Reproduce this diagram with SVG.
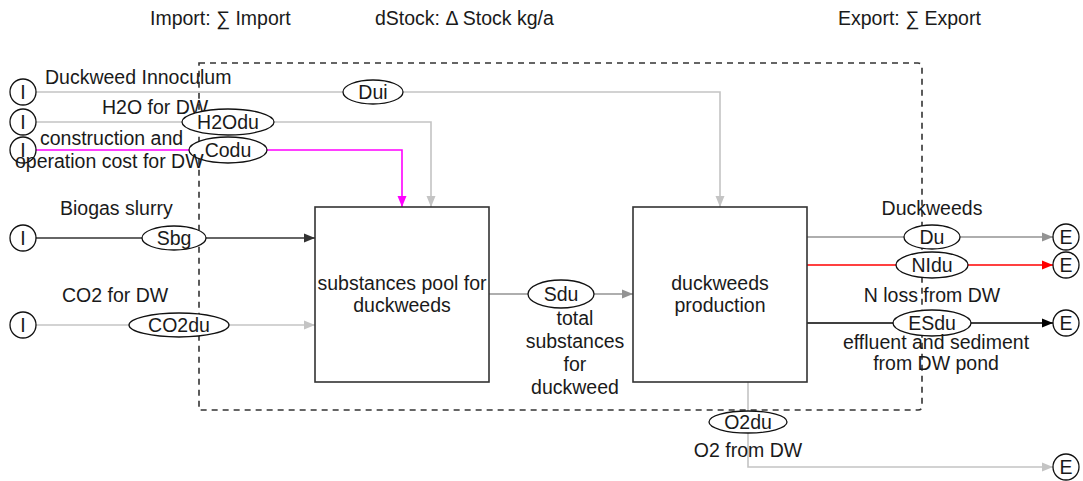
<svg xmlns="http://www.w3.org/2000/svg" width="1083" height="481" viewBox="0 0 1083 481">
<style>
text{font-family:"Liberation Sans",Arial,sans-serif;font-size:19.5px;fill:#1a1a1a}
.c{text-anchor:middle}
.io{fill:#fff;stroke:#111;stroke-width:1.3}
.ell{fill:#fff;stroke:#111;stroke-width:1.3}
.box{fill:#fff;stroke:#333;stroke-width:1.6}
.ln{fill:none;stroke-width:1.6}
.lg{stroke:#c4c4c4}
.mg{stroke:#939393}
.dk{stroke:#333}
.bk{stroke:#000}
.rd{stroke:#ff0000}
.mag{stroke:#ff00ff}
</style>
<defs>
<marker id="aLg" markerUnits="userSpaceOnUse" markerWidth="12" markerHeight="10" refX="11" refY="5" orient="auto"><path d="M0,0.5 L11,5 L0,9.5 z" fill="#c4c4c4"/></marker>
<marker id="aMg" markerUnits="userSpaceOnUse" markerWidth="12" markerHeight="10" refX="11" refY="5" orient="auto"><path d="M0,0.5 L11,5 L0,9.5 z" fill="#939393"/></marker>
<marker id="aDk" markerUnits="userSpaceOnUse" markerWidth="12" markerHeight="10" refX="11" refY="5" orient="auto"><path d="M0,0.5 L11,5 L0,9.5 z" fill="#333"/></marker>
<marker id="aBk" markerUnits="userSpaceOnUse" markerWidth="12" markerHeight="10" refX="11" refY="5" orient="auto"><path d="M0,0.5 L11,5 L0,9.5 z" fill="#000"/></marker>
<marker id="aRd" markerUnits="userSpaceOnUse" markerWidth="12" markerHeight="10" refX="11" refY="5" orient="auto"><path d="M0,0.5 L11,5 L0,9.5 z" fill="#ff0000"/></marker>
<marker id="aMag" markerUnits="userSpaceOnUse" markerWidth="12" markerHeight="10" refX="11" refY="5" orient="auto"><path d="M0,0.5 L11,5 L0,9.5 z" fill="#ff00ff"/></marker>
</defs>
<rect width="1083" height="481" fill="#fff"/>

<g id="header">
<text x="150" y="25">Import: ∑ Import</text>
<text x="375" y="25">dStock: Δ Stock kg/a</text>
<text x="838" y="25">Export: ∑ Export</text>
</g>

<g id="boundary">
<path d="M199,63 H918 Q922,63 922,67 V406 Q922,410 918,410 H199 Z" fill="none" stroke="#333" stroke-width="1.6" stroke-dasharray="6 5"/>
</g>

<g id="connectors">
<path class="ln lg" d="M36,92 H720 V207" marker-end="url(#aLg)"/>
<path class="ln lg" d="M36,122 H431 V207" marker-end="url(#aLg)"/>
<path class="ln mag" d="M36,150 H402 V207" marker-end="url(#aMag)"/>
<path class="ln dk" d="M36,238 H315" marker-end="url(#aDk)"/>
<path class="ln lg" d="M36,325 H315" marker-end="url(#aLg)"/>
<path class="ln mg" d="M489,294 H633" marker-end="url(#aMg)"/>
<path class="ln mg" d="M807,237 H1053" marker-end="url(#aMg)"/>
<path class="ln rd" d="M807,265 H1053" marker-end="url(#aRd)"/>
<path class="ln bk" d="M807,323 H1053" marker-end="url(#aBk)"/>
<path class="ln lg" d="M748,381 V467 H1053" marker-end="url(#aLg)"/>
</g>

<g id="import1"><circle class="io" cx="23" cy="92" r="13"/><text class="c" x="23" y="99">I</text></g>
<g id="import2"><circle class="io" cx="23" cy="122" r="13"/><text class="c" x="23" y="129">I</text></g>
<g id="import3"><circle class="io" cx="23" cy="150" r="13"/><text class="c" x="23" y="157">I</text></g>
<g id="import4"><circle class="io" cx="23" cy="238" r="13"/><text class="c" x="23" y="245">I</text></g>
<g id="import5"><circle class="io" cx="23" cy="325" r="13"/><text class="c" x="23" y="332">I</text></g>

<g id="export1"><circle class="io" cx="1066" cy="237" r="13"/><text class="c" x="1066" y="244">E</text></g>
<g id="export2"><circle class="io" cx="1066" cy="265" r="13"/><text class="c" x="1066" y="272">E</text></g>
<g id="export3"><circle class="io" cx="1066" cy="323" r="13"/><text class="c" x="1066" y="330">E</text></g>
<g id="export4"><circle class="io" cx="1066" cy="467" r="13"/><text class="c" x="1066" y="474">E</text></g>

<g id="pool">
<rect class="box" x="315" y="207" width="174" height="175"/>
<text class="c" x="402" y="290">substances pool for</text>
<text class="c" x="402" y="312">duckweeds</text>
</g>
<g id="production">
<rect class="box" x="633" y="207" width="174" height="175"/>
<text class="c" x="720" y="290">duckweeds</text>
<text class="c" x="720" y="312">production</text>
</g>

<g id="flow-Dui">
<text x="45" y="84">Duckweed Innoculum</text>
<ellipse class="ell" cx="373" cy="92" rx="30" ry="12"/><text class="c" x="373" y="99">Dui</text>
</g>
<g id="flow-H2Odu">
<text x="102" y="114">H2O for DW</text>
<ellipse class="ell" cx="228" cy="122" rx="46" ry="13"/><text class="c" x="228" y="129">H2Odu</text>
</g>
<g id="flow-Codu">
<ellipse class="ell" cx="228" cy="150" rx="39" ry="13"/><text class="c" x="228" y="157">Codu</text>
<text x="40" y="145">construction and</text>
<text x="15" y="168">operation cost for DW</text>
</g>
<g id="flow-Sbg">
<text x="60" y="215">Biogas slurry</text>
<ellipse class="ell" cx="174" cy="238" rx="32" ry="12"/><text class="c" x="174" y="245">Sbg</text>
</g>
<g id="flow-CO2du">
<text x="62" y="302">CO2 for DW</text>
<ellipse class="ell" cx="179" cy="325" rx="50" ry="12"/><text class="c" x="179" y="332">CO2du</text>
</g>
<g id="flow-Sdu">
<ellipse class="ell" cx="561" cy="294" rx="33" ry="14"/><text class="c" x="561" y="301">Sdu</text>
<text class="c" x="575" y="325">total</text>
<text class="c" x="575" y="348">substances</text>
<text class="c" x="575" y="371">for</text>
<text class="c" x="575" y="394">duckweed</text>
</g>
<g id="flow-Du">
<text class="c" x="932" y="215">Duckweeds</text>
<ellipse class="ell" cx="932" cy="237" rx="28" ry="12"/><text class="c" x="932" y="244">Du</text>
</g>
<g id="flow-NIdu">
<ellipse class="ell" cx="932" cy="265" rx="36" ry="13"/><text class="c" x="932" y="272">NIdu</text>
<text class="c" x="932" y="302">N loss from DW</text>
</g>
<g id="flow-ESdu">
<ellipse class="ell" cx="932" cy="323" rx="39" ry="13"/><text class="c" x="932" y="330">ESdu</text>
<text class="c" x="936" y="349">effluent and sediment</text>
<text class="c" x="936" y="370">from DW pond</text>
</g>
<g id="flow-O2du">
<ellipse class="ell" cx="748" cy="422" rx="39" ry="11"/><text class="c" x="748" y="429">O2du</text>
<text class="c" x="748" y="457">O2 from DW</text>
</g>
</svg>
